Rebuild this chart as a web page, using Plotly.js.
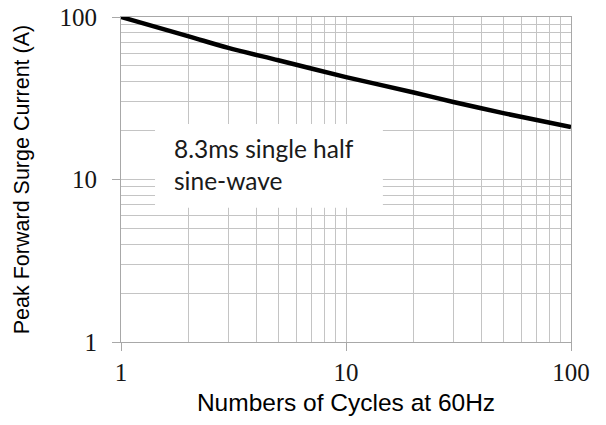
<!DOCTYPE html>
<html>
<head>
<meta charset="utf-8">
<script src="https://cdn.plot.ly/plotly-3.0.1.min.js"></script>
<style>
  html, body { margin: 0; padding: 0; background: #ffffff; }
  #chart { width: 606px; height: 425px; }
</style>
</head>
<body>
<div id="chart"></div>
<script>
// Data
const cycles = [1, 2, 3, 5, 10, 20, 30, 50, 100];
const surgeCurrent = [100, 76, 64.5, 54.2, 42.7, 34.3, 30, 25.6, 21];

const xTickVals = [1, 10, 100];
const xTickText = ['1', '10', '100'];
const yTickVals = [1, 10, 100];
const yTickText = ['1', '10', '100'];

const noteText = '8.3ms single half<br>sine-wave';
const xTitle = 'Numbers of Cycles at 60Hz';
const yTitle = 'Peak Forward Surge Current (A)';

// minor grid positions (2..9 in each decade)
const minorVals = [];
for (let d = 1; d <= 10; d *= 10) {
  for (let k = 2; k <= 9; k++) minorVals.push(k * d);
}

const gridColor = '#c4c4c4';
const frameColor = '#a8a8a8';
const tickFont = { family: 'Times New Roman, Liberation Serif, Tinos, serif', size: 25, color: '#151515' };
const titleFont = { family: 'Liberation Sans, Arial, sans-serif', size: 21.5, color: '#000000' };

const trace = {
  x: cycles,
  y: surgeCurrent,
  type: 'scatter',
  mode: 'lines',
  line: { color: '#000000', width: 4.5, shape: 'spline', smoothing: 0.8 },
  hoverinfo: 'skip'
};

const axisCommon = {
  type: 'log',
  range: [0, 2],
  tickmode: 'array',
  ticks: 'outside',
  ticklen: 8,
  tickwidth: 1,
  tickcolor: frameColor,
  showgrid: true,
  gridcolor: gridColor,
  gridwidth: 1,
  zeroline: false,
  showline: true,
  mirror: true,
  linecolor: frameColor,
  linewidth: 1,
  tickfont: tickFont,
  minor: { tickmode: 'array', tickvals: minorVals, showgrid: true, gridcolor: gridColor, gridwidth: 1, ticks: '' },
  automargin: false,
  fixedrange: true
};

const layout = {
  width: 606,
  height: 425,
  margin: { l: 121, r: 35, t: 17, b: 83 },
  paper_bgcolor: '#ffffff',
  plot_bgcolor: '#ffffff',
  showlegend: false,
  xaxis: Object.assign({}, axisCommon, {
    tickvals: xTickVals,
    ticktext: xTickText,
    ticklabelstandoff: 0,
    title: { text: xTitle, font: { family: titleFont.family, size: 24.5, color: '#000000' }, standoff: 8 }
  }),
  yaxis: Object.assign({}, axisCommon, {
    tickvals: yTickVals,
    ticktext: yTickText,
    ticklabelstandoff: 10,
    title: { text: yTitle, font: titleFont, standoff: 23 }
  }),
  shapes: [{
    type: 'rect', xref: 'paper', yref: 'paper',
    x0: 0.0756, x1: 0.582, y0: 0.413, y1: 0.671,
    fillcolor: '#ffffff', line: { width: 0 }, layer: 'above'
  }],
  annotations: [{
    text: noteText,
    xref: 'paper', yref: 'paper',
    x: 0.114, y: 0.645,
    xanchor: 'left', yanchor: 'top',
    align: 'left',
    showarrow: false,
    font: { family: 'Lato, Open Sans, sans-serif', size: 24.5, color: '#1a1a1a' }
  }]
};

Plotly.newPlot('chart', [trace], layout, { staticPlot: true, displayModeBar: false });
</script>
</body>
</html>
